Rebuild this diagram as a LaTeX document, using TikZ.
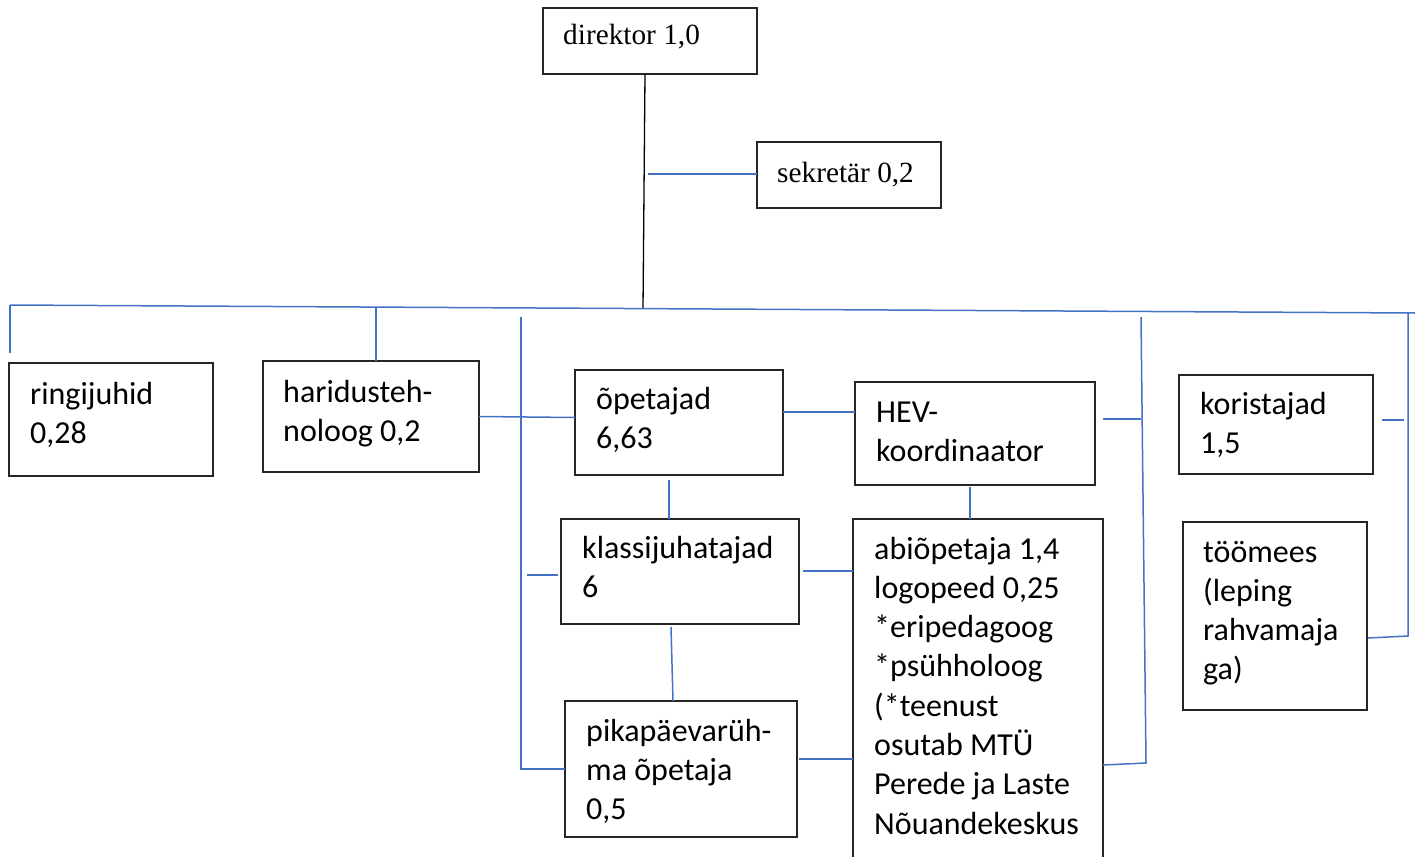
\documentclass[tikz,border=0pt]{standalone}
\usepackage{fontspec}
\setmainfont{Carlito}
\newfontfamily\timesf{Liberation Serif}
\usetikzlibrary{calc}
\definecolor{lnblue}{HTML}{4472C4}
\definecolor{boxgray}{HTML}{262626}
\newcommand{\ml}[1]{\begin{tabular}[t]{@{}l@{}}#1\end{tabular}}
\tikzset{
  box/.style={draw=boxgray, line width=1.3pt, anchor=north west, inner sep=0pt, outer sep=0pt},
  txt/.style={anchor=base west, inner sep=0pt, font=\fontsize{32}{39.3}\selectfont},
  ttxt/.style={anchor=base west, inner sep=0pt, font=\timesf\fontsize{29.3}{35}\selectfont},
  con/.style={draw=lnblue, line width=1.5pt},
  blk/.style={draw=black, line width=1.3pt}
}
\begin{document}
\begin{tikzpicture}[x=1pt,y=-1pt]
\useasboundingbox (0,0) rectangle (1420,856);
\clip (0,0) rectangle (1420,856);
% boxes
\node[box, minimum width=214, minimum height=66] (dir) at (543,8) {};
\node[box, minimum width=184, minimum height=66] (sek) at (757,142) {};
\node[box, minimum width=204, minimum height=113] (ring) at (9,363) {};
\node[box, minimum width=216, minimum height=111] (har) at (263,361) {};
\node[box, minimum width=208, minimum height=105] (op) at (575,370) {};
\node[box, minimum width=240, minimum height=103] (hev) at (855,382) {};
\node[box, minimum width=194, minimum height=99] (kor) at (1179,375) {};
\node[box, minimum width=238, minimum height=105] (klass) at (561,519) {};
\node[box, minimum width=232, minimum height=136] (pika) at (565,701) {};
\node[box, minimum width=250, minimum height=345] (abi) at (853,519) {};
\node[box, minimum width=184, minimum height=188] (too) at (1183,522) {};
% texts
\node[ttxt] (tdir) at (563,45) {direktor 1,0};
\node[ttxt] (tsek) at (777,182) {sekretär 0,2};
\node[txt] (tring) at (30,404) {\ml{ringijuhid\\0,28}};
\node[txt] (thar) at (283,402) {\ml{haridusteh-\\noloog 0,2}};
\node[txt] (top) at (596,409) {\ml{õpetajad\\6,63}};
\node[txt] (thev) at (876,422) {\ml{HEV-\\koordinaator}};
\node[txt] (tkor) at (1200,414) {\ml{koristajad\\1,5}};
\node[txt] (tklass) at (582,558) {\ml{klassijuhatajad\\6}};
\node[txt] (tpika) at (586,741) {\ml{pikapäevarüh-\\ma õpetaja\\0,5}};
\node[txt] (tabi) at (874,559) {\ml{abiõpetaja 1,4\\logopeed 0,25\\{*}eripedagoog\\{*}psühholoog\\(*teenust\\osutab MTÜ\\Perede ja Laste\\Nõuandekeskus}};
\node[txt] (ttoo) at (1203,562) {\ml{töömees\\(leping\\rahvamaja\\ga)}};
% coordinates
\coordinate (busL) at (10,305);
\coordinate (busR) at (1415,313);
\coordinate (busD) at (643,308);
\coordinate (sekJ) at (648,174);
\coordinate (ringT) at (10,353);
\coordinate (harJ) at (376,308);
\coordinate (lvT) at (521,317);
\coordinate (t1a) at (527,575);
\coordinate (t1b) at (558,575);
\coordinate (opB) at (669,480);
\coordinate (klB) at (671,627);
\coordinate (hevB) at (970,487);
\coordinate (klR) at (803,571);
\coordinate (pkR) at (799,759);
\coordinate (hevR) at (1103,419);
\coordinate (mvJ) at (1141,419);
\coordinate (mvT) at (1141,317);
\coordinate (mvB) at (1146,763);
\coordinate (abiR) at (1103,765);
\coordinate (korA) at (1382,420);
\coordinate (korB) at (1404,420);
\coordinate (rvT) at (1408,313);
\coordinate (rvB) at (1408,636);
\coordinate (tooR) at (1368,638);
% connectors
\draw[blk] ($(dir.south)+(-5,0)$) -- (busD);
\draw[con] (sekJ) -- (sekJ -| sek.west);
\draw[con] (busL) -- (busR);
\draw[con] (busL) -- (ringT);
\draw[con] (harJ) -- (harJ |- har.north);
\draw[con] (har.east) -- ($(op.west)+(0,-5)$);
\draw[con] (lvT) -- (lvT |- pika.west) -- (pika.west);
\draw[con] (t1a) -- (t1b);
\draw[con] ($(op.east)+(0,-10.5)$) -- ($(hev.west)+(0,-21.5)$);
\draw[con] (opB) -- (opB |- klass.north);
\draw[con] (klB) -- ($(pika.north)+(-8,0)$);
\draw[con] (klR) -- (klR -| abi.west);
\draw[con] (pkR) -- (pkR -| abi.west);
\draw[con] (hevB) -- (hevB |- abi.north);
\draw[con] (hevR) -- (mvJ);
\draw[con] (mvT) -- (mvB) -- (abiR);
\draw[con] (korA) -- (korB);
\draw[con] (rvT) -- (rvB) -- (tooR);
\end{tikzpicture}
\end{document}
